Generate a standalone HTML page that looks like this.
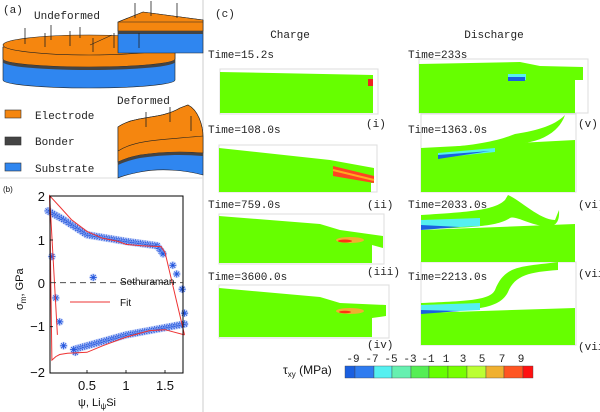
<!DOCTYPE html>
<html><head><meta charset="utf-8"><style>
html,body{margin:0;padding:0;background:#fff}
svg{display:block}
.m{font-family:"Liberation Mono",monospace;font-size:11px;fill:#222}
.s{font-family:"Liberation Sans",sans-serif;fill:#111}
</style></head><body>
<svg id="c" width="600" height="412" viewBox="0 0 600 412" xmlns="http://www.w3.org/2000/svg">
<rect width="600" height="412" fill="#fff"/>
<line x1="203" y1="0" x2="203" y2="412" stroke="#ccc" stroke-width="1"/>
<line x1="0" y1="178" x2="203" y2="178" stroke="#ddd" stroke-width="1"/>
<text x="3" y="13" class="m" font-size="9">(a)</text>
<text x="34" y="19" class="m" font-size="10">Undeformed</text>
<path d="M3,47 L3,80 A86,8 0 0 0 175,80 L175,47 Z" fill="#2f86f0" stroke="#222" stroke-width="0.6"/>
<path d="M3,47 L3,59 A86,8 0 0 0 175,59 L175,47 Z" fill="#f5860f" stroke="#222" stroke-width="0.6"/>
<path d="M3,59 A86,8 0 0 0 175,59 L175,62 A86,8 0 0 1 3,62 Z" fill="#444"/>
<ellipse cx="89" cy="45" rx="86" ry="10" fill="#f5860f" stroke="#222" stroke-width="0.6"/>
<path d="M118,22 L143,12 L203,20 L203,53 L118,53 Z" fill="#2f86f0" stroke="#222" stroke-width="0.6"/>
<path d="M118,22 L143,12 L203,20 L203,31 L118,31 Z" fill="#f5860f" stroke="#222" stroke-width="0.6"/>
<rect x="118" y="31" width="85" height="3" fill="#444"/>
<line x1="118" y1="22" x2="203" y2="22" stroke="#222" stroke-width="0.6"/>
<line x1="90" y1="45" x2="112" y2="35" stroke="#222" stroke-width="0.6"/>
<g stroke="#222" stroke-width="0.8">
<line x1="25" y1="28" x2="25" y2="44"/><line x1="45" y1="33" x2="45" y2="47"/><line x1="51" y1="25" x2="51" y2="40"/><line x1="70" y1="31" x2="70" y2="46"/><line x1="80" y1="27" x2="80" y2="38"/><line x1="93" y1="38" x2="93" y2="52"/><line x1="114" y1="33" x2="114" y2="48"/><line x1="139" y1="33" x2="139" y2="48"/>
<line x1="135" y1="3" x2="135" y2="18"/><line x1="151" y1="1" x2="151" y2="16"/><line x1="177" y1="3" x2="177" y2="18"/>
</g>
<rect x="5" y="110" width="16" height="8" fill="#f5860f" stroke="#333" stroke-width="0.6"/>
<rect x="5" y="137" width="16" height="8" fill="#444" stroke="#333" stroke-width="0.6"/>
<rect x="5" y="163" width="16" height="8" fill="#2f86f0" stroke="#333" stroke-width="0.6"/>
<text x="35" y="119" class="m" font-size="10">Electrode</text>
<text x="35" y="145" class="m" font-size="10">Bonder</text>
<text x="35" y="172" class="m" font-size="10">Substrate</text>
<text x="117" y="104" class="m" font-size="10">Deformed</text>
<path d="M118,127 C135,115 160,120 180,108 L188,105 C198,110 203,125 203,137 L203,175 C185,170 160,168 140,172 C130,174 122,176 118,178 Z" fill="#2f86f0" stroke="#222" stroke-width="0.6"/>
<path d="M118,127 C135,115 160,120 180,108 L188,105 C198,110 203,125 203,137 L203,153 C180,151 160,152 140,155 C130,157 122,160 118,162 Z" fill="#f5860f" stroke="#222" stroke-width="0.6"/>
<path d="M118,151 C135,140 160,140 203,136" fill="none" stroke="#222" stroke-width="0.6"/>
<path d="M118,162 C122,160 130,157 140,155 C160,152 180,151 203,153 L203,156 C180,154 160,155 140,158 C130,160 122,163 118,165 Z" fill="#444"/>
<g stroke="#222" stroke-width="0.8"><line x1="146" y1="112" x2="146" y2="127"/><line x1="170" y1="107" x2="170" y2="122"/><line x1="191" y1="116" x2="191" y2="131"/></g>
<text x="3" y="192" class="s" font-size="8">(b)</text>
<g id="plot"></g>
<rect x="50" y="196" width="133" height="177" fill="none" stroke="#000" stroke-width="1"/>
<line x1="50" y1="282.7" x2="183" y2="282.7" stroke="#333" stroke-width="0.9" stroke-dasharray="6,4"/>
<g class="s" font-size="13" text-anchor="end">
<text x="45" y="201">2</text><text x="45" y="245">1</text><text x="45" y="288">0</text><text x="45" y="331">−1</text><text x="45" y="377">−2</text>
</g>
<g class="s" font-size="13" text-anchor="middle">
<text x="87" y="390">0.5</text><text x="126" y="390">1</text><text x="165" y="390">1.5</text>
</g>
<text x="78" y="406" class="s" font-size="11">ψ, Li<tspan font-size="8" dy="3">ψ</tspan><tspan dy="-3">Si</tspan></text>
<text transform="translate(23,310) rotate(-90)" class="s" font-size="11">σ<tspan font-size="8" dy="3">m</tspan><tspan dy="-3">, GPa</tspan></text>
<g stroke="#000" stroke-width="0.8">
<line x1="50" y1="240" x2="53" y2="240"/><line x1="50" y1="326.7" x2="53" y2="326.7"/><line x1="87" y1="373" x2="87" y2="370"/><line x1="126" y1="373" x2="126" y2="370"/><line x1="165" y1="373" x2="165" y2="370"/>
</g>
<text x="120" y="285" class="s" font-size="10">Sethuraman</text>
<line x1="70" y1="302" x2="110" y2="302" stroke="#ee3333" stroke-width="1"/>
<text x="120" y="306" class="s" font-size="10">Fit</text>
<text x="215" y="17" class="m" font-size="9">(c)</text>
<text x="290" y="38" class="m" font-size="13" text-anchor="middle">Charge</text>
<text x="494" y="38" class="m" font-size="13" text-anchor="middle">Discharge</text>
<g class="m" font-size="10">
<text x="208" y="58">Time=15.2s</text><text x="208" y="133">Time=108.0s</text><text x="208" y="208">Time=759.0s</text><text x="208" y="280">Time=3600.0s</text>
<text x="408" y="58">Time=233s</text><text x="408" y="133">Time=1363.0s</text><text x="408" y="208">Time=2033.0s</text><text x="408" y="280">Time=2213.0s</text>
<text x="366" y="127">(i)</text><text x="367" y="208">(ii)</text><text x="367" y="275">(iii)</text><text x="367" y="348">(iv)</text>
<text x="578" y="127">(v)</text><text x="578" y="208">(vi)</text><text x="578" y="277">(vii</text><text x="578" y="350">(vii</text>
</g>
<g fill="none" stroke="#ddd" stroke-width="1">
<rect x="220" y="69" width="158" height="45"/><rect x="219" y="145" width="158" height="47"/><rect x="219" y="214" width="165" height="50"/><rect x="219" y="285" width="170" height="53"/>
<rect x="419" y="59" width="169" height="54"/><rect x="421" y="114" width="155" height="78"/><rect x="421" y="262" width="155" height="83"/>
</g>
<g fill="#66ff00">
<path d="M220,72 L373,75 L373,113 L220,113 Z"/>
<path d="M219,148 L330,160 L374,168 L374,183 L371,183 L371,192 L219,192 Z"/>
<path d="M219,216 L320,224 L340,230 L383,236 L383,248 L372,245 L372,263 L219,263 Z"/>
<path d="M219,288 L320,297 L340,303 L386,305 L386,316 L372,318 L372,337 L219,337 Z"/>
<path d="M419,64 L520,62 L540,66 L583,67 L583,80 L575,80 L575,113 L419,113 Z"/>
<path d="M421,148 L575,140 L575,192 L421,192 Z"/>
<path d="M438,148 C480,145 500,140 515,134 C540,130 555,125 565,115 C560,130 545,140 525,143 L438,159 Z"/>
<path d="M421,230 L575,224 L575,262 L421,262 Z"/>
<path d="M421,215 C470,212 495,210 505,200 L508,195 C520,200 540,220 555,220 L559,210 C560,225 553,227 545,226 C530,225 515,215 510,218 C500,225 480,228 421,229 Z"/>
<path d="M421,313 L575,308 L575,345 L421,345 Z"/>
<path d="M421,303 C470,301 490,300 495,290 C505,265 520,267 558,262 L558,270 C530,272 515,275 508,292 C500,308 480,310 421,313 Z"/>
</g>
<rect x="368" y="79" width="5" height="7" fill="#ee2222"/>
<path d="M333,166 L374,176 L374,183 L333,176 Z" fill="#ff4422"/><path d="M333,170 L374,180" stroke="#ffaa22" stroke-width="2"/>
<ellipse cx="350" cy="240" rx="14" ry="3" fill="#f0b030"/><ellipse cx="345" cy="241" rx="7" ry="1.5" fill="#ff3311"/>
<ellipse cx="350" cy="311" rx="14" ry="3" fill="#f0b030"/><ellipse cx="345" cy="312" rx="6" ry="1.2" fill="#ff3311"/>
<rect x="508" y="74" width="18" height="6" fill="#55f0f0"/><rect x="508" y="77" width="17" height="4" fill="#1a5fe0"/>
<path d="M438,153 L495,148 L495,152 L438,158 Z" fill="#55f0f0"/><path d="M438,155 L490,151 L438,159 Z" fill="#1a5fe0"/>
<path d="M421,220 L480,218 L480,226 L421,229 Z" fill="#55f0f0"/><path d="M421,225 L460,227 L421,230 Z" fill="#1a5fe0"/>
<path d="M421,305 L480,303 L480,310 L421,313 Z" fill="#55f0f0"/><path d="M421,310 L460,311 L421,314 Z" fill="#1a5fe0"/>
<text x="283" y="374" class="s" font-size="12">τ<tspan font-size="8" dy="3">xy</tspan><tspan dy="-3"> (MPa)</tspan></text>
<g id="cb"></g>
<g class="m" font-size="10" text-anchor="middle">
<text x="353" y="362">-9</text><text x="372" y="362">-7</text><text x="391" y="362">-5</text><text x="410" y="362">-3</text><text x="428" y="362">-1</text><text x="446" y="362">1</text><text x="463" y="362">3</text><text x="482" y="362">5</text><text x="502" y="362">7</text><text x="521" y="362">9</text>
</g>
</svg>
<script>
(function(){
var NS="http://www.w3.org/2000/svg";
function el(p,t,a){var e=document.createElementNS(NS,t);for(var k in a)e.setAttribute(k,a[k]);p.appendChild(e);return e;}
var cb=document.getElementById('cb');
var xs=[345,355,374,392,411,429,448,467,486,504,523,533];
var cs=['#1a5fe0','#2f7cf0','#55f0f0','#66f0b0','#55ee55','#66ff00','#77ff00','#bbff33','#f0b030','#ff5522','#ff1111'];
for(var i=0;i<11;i++)el(cb,'rect',{x:xs[i],y:366,width:xs[i+1]-xs[i],height:12,fill:cs[i],stroke:'#444','stroke-width':0.4});
var g=document.getElementById('plot');
function X(x){return 48+78*x}function Y(y){return 282.7-43.5*y}
function pth(pts){return pts.map(function(p,i){return (i?'L':'M')+X(p[0]).toFixed(1)+','+Y(p[1]).toFixed(1)}).join(' ')}
var topb=[[0.02,2],[0.15,1.75],[0.3,1.45],[0.5,1.18],[0.7,1.02],[0.9,0.95],[1.0,0.88],[1.2,0.85],[1.45,0.83],[1.5,0.7],[1.75,-1.2]];
var bot=[[1.75,-1.2],[1.5,-1.08],[1.3,-1.1],[1.0,-1.25],[0.7,-1.45],[0.5,-1.6],[0.25,-1.62],[0.15,-1.65],[0.1,-1.7],[0.05,-1.78],[0.02,2]];
var st=[];
function seg(a,b,n){for(var i=0;i<n;i++){var t=i/n;st.push([a[0]+(b[0]-a[0])*t,a[1]+(b[1]-a[1])*t]);}}
var tb=[[0,1.65],[0.2,1.45],[0.5,1.1],[1,0.95],[1.4,0.85],[1.5,0.6]];
for(var i=0;i<tb.length-1;i++)seg(tb[i],tb[i+1],Math.round((tb[i+1][0]-tb[i][0])*30)+1);
[[1.6,0.4],[1.65,0.2],[1.72,-0.15],[1.75,-0.7],[1.75,-0.95],[0.05,0.6],[0.1,-0.35],[0.15,-0.9],[0.2,-1.45],[0.35,-1.6]].forEach(function(p){st.push(p)});
var bb=[[1.75,-0.95],[1.3,-1.1],[1,-1.2],[0.5,-1.45],[0.3,-1.55]];
for(var i=0;i<bb.length-1;i++)seg(bb[i],bb[i+1],Math.round((bb[i][0]-bb[i+1][0])*30)+1);
st.push([0.58,0.12]);
st.forEach(function(p){var x=X(p[0]),y=Y(p[1]);
 el(g,'circle',{cx:x,cy:y,r:4,fill:'#b8c8f8',opacity:0.6});
 for(var a=0;a<4;a++){var an=a*Math.PI/4;el(g,'line',{x1:x-3.5*Math.cos(an),y1:y-3.5*Math.sin(an),x2:x+3.5*Math.cos(an),y2:y+3.5*Math.sin(an),stroke:'#2255dd','stroke-width':0.9});}
});
el(g,'path',{d:pth([[0.12,-1.2]].concat(topb)),fill:'none',stroke:'#ee3333','stroke-width':1});
el(g,'path',{d:pth(bot),fill:'none',stroke:'#ee3333','stroke-width':1});
})();
</script>
</body></html>
